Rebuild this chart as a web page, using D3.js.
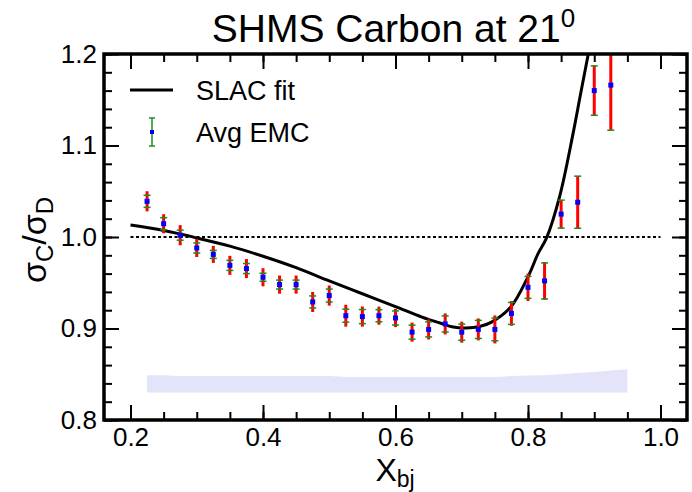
<!DOCTYPE html>
<html>
<head>
<meta charset="utf-8">
<script src="https://cdn.jsdelivr.net/npm/d3@7"></script>
<style>
	body { margin: 0; background: #fff; }
	svg text { font-family: "Liberation Sans", Arial, Helvetica, sans-serif; fill: #000; }
</style>
</head>
<body>
<svg id="chart" width="692" height="492"></svg>
<script>
// data points (x_bj, ratio), total error (red) and stat error (green, with caps)
var xbj = [0.225, 0.25, 0.275, 0.3, 0.325, 0.35, 0.375, 0.4, 0.425, 0.45, 0.475, 0.5, 0.525, 0.55, 0.575,
	0.6, 0.625, 0.65, 0.675, 0.7, 0.725, 0.75, 0.775, 0.8, 0.825, 0.85, 0.875, 0.9, 0.925];
var ratio = [1.039, 1.0145, 1.002, 0.988, 0.981, 0.969, 0.9655, 0.956, 0.948, 0.948, 0.929, 0.936, 0.914, 0.913, 0.914,
	0.9115, 0.896, 0.899, 0.905, 0.896, 0.899, 0.899, 0.9165, 0.945, 0.952, 1.025, 1.038, 1.160, 1.166];
var errTot = [0.011, 0.0104, 0.011, 0.0099, 0.0093, 0.0104, 0.0104, 0.0099, 0.0099, 0.0099, 0.011, 0.011, 0.012, 0.011, 0.0099,
	0.0099, 0.0104, 0.011, 0.0115, 0.0115, 0.012, 0.0153, 0.0135, 0.015, 0.0205, 0.0153, 0.0285, 0.0274, 0.0493];
var errStat = [0.0066, 0.0066, 0.0055, 0.0055, 0.0044, 0.0055, 0.0055, 0.0044, 0.0049, 0.0049, 0.0066, 0.0071, 0.0071, 0.0077, 0.0066,
	0.0077, 0.0077, 0.0082, 0.0088, 0.0088, 0.0099, 0.0124, 0.012, 0.012, 0.0197, 0.0153, 0.0285, 0.027, 0.0493];

// SLAC fit curve
var fitX = [0.2, 0.25, 0.3, 0.35, 0.4, 0.45, 0.5, 0.55, 0.6, 0.64, 0.667, 0.687, 0.707, 0.727, 0.745,
	0.774, 0.8, 0.815, 0.828, 0.848, 0.868, 0.879, 0.891];
var fitY = [1.013, 1.007, 0.999, 0.990, 0.979, 0.9665, 0.952, 0.938, 0.924, 0.9125, 0.906, 0.9016, 0.9005, 0.9022, 0.907,
	0.9235, 0.9565, 0.9815, 0.999, 1.045, 1.113, 1.155, 1.2];

// systematic band
var bandX = [0.225, 0.25, 0.275, 0.3, 0.325, 0.35, 0.375, 0.4, 0.425, 0.45, 0.475, 0.5, 0.525, 0.55, 0.575,
	0.6, 0.625, 0.65, 0.675, 0.7, 0.725, 0.75, 0.775, 0.8, 0.825, 0.85, 0.875, 0.9, 0.925, 0.95];
var bandTop = [0.849, 0.849, 0.848, 0.848, 0.848, 0.848, 0.848, 0.848, 0.848, 0.848, 0.848, 0.848, 0.847, 0.847, 0.847,
	0.847, 0.847, 0.847, 0.847, 0.847, 0.847, 0.847, 0.848, 0.8485, 0.849, 0.850, 0.8515, 0.8525, 0.854, 0.8556];
var bandBase = 0.830;

// axis ticks
var xMajor = [0.2, 0.4, 0.6, 0.8, 1.0];
var xMinor = d3.range(4, 21).map(function(i) { return i * 0.05; });
var yMajor = [0.8, 0.9, 1.0, 1.1, 1.2];
var yMinor = d3.range(40, 61).map(function(i) { return i * 0.02; });

var svg = d3.select("#chart");
var margin = { left: 104, right: 5, top: 54, bottom: 72 };
var width = 692 - margin.left - margin.right, height = 492 - margin.top - margin.bottom;

var x = d3.scaleLinear().domain([0.16, 1.04]).range([0, width]);
var y = d3.scaleLinear().domain([0.8, 1.2]).range([height, 0]);

var g = svg.append("g").attr("transform", "translate(" + margin.left + "," + margin.top + ")");

g.append("clipPath").attr("id", "clip")
	.append("rect").attr("width", width).attr("height", height);

var plot = g.append("g").attr("clip-path", "url(#clip)");

// band
var band = bandX.map(function(d, i) { return { x: d, top: bandTop[i] }; });
plot.append("path")
	.datum(band)
	.attr("fill", "#e3e3fa")
	.attr("d", d3.area()
		.x(function(d) { return x(d.x); })
		.y0(y(bandBase))
		.y1(function(d) { return y(d.top); }));

// dotted line at 1
plot.append("line")
	.attr("x1", x(0.2)).attr("x2", x(1.0))
	.attr("y1", y(1.0)).attr("y2", y(1.0))
	.attr("stroke", "#000").attr("stroke-width", 2)
	.attr("stroke-dasharray", "3,2.5");

// fit
var fit = fitX.map(function(d, i) { return [d, fitY[i]]; });
plot.append("path")
	.datum(fit)
	.attr("fill", "none")
	.attr("stroke", "#000")
	.attr("stroke-width", 3)
	.attr("d", d3.line()
		.x(function(d) { return x(d[0]); })
		.y(function(d) { return y(d[1]); })
		.curve(d3.curveCatmullRom.alpha(0.5)));

// points
var pts = xbj.map(function(d, i) {
	return { x: d, y: ratio[i], tot: errTot[i], stat: errStat[i] };
});

var pt = plot.append("g").selectAll("g").data(pts).enter().append("g");

pt.append("line")
	.attr("x1", function(d) { return x(d.x); })
	.attr("x2", function(d) { return x(d.x); })
	.attr("y1", function(d) { return y(d.y - d.tot); })
	.attr("y2", function(d) { return y(d.y + d.tot); })
	.attr("stroke", "#ff0000").attr("stroke-width", 3);

[-1, 1].forEach(function(s) {
	pt.append("line")
		.attr("x1", function(d) { return x(d.x) - 3.5; })
		.attr("x2", function(d) { return x(d.x) + 3.5; })
		.attr("y1", function(d) { return y(d.y + s * d.stat); })
		.attr("y2", function(d) { return y(d.y + s * d.stat); })
		.attr("stroke", "#1a8c1a").attr("stroke-width", 1.5);
});

pt.append("rect")
	.attr("x", function(d) { return x(d.x) - 2.5; })
	.attr("y", function(d) { return y(d.y) - 2.5; })
	.attr("width", 5).attr("height", 5)
	.attr("fill", "#0000ff");

// axes, ticks pointing inward
function styleAxis(sel) {
	sel.select(".domain").remove();
	sel.selectAll("line").attr("stroke", "#000").attr("stroke-width", 2);
	sel.selectAll("text").style("font-size", "26px").attr("fill", "#000");
}

g.append("g").attr("transform", "translate(0," + height + ")")
	.call(d3.axisBottom(x).tickValues(xMinor).tickSize(-8).tickFormat(""))
	.call(styleAxis);
g.append("g").attr("transform", "translate(0," + height + ")")
	.call(d3.axisBottom(x).tickValues(xMajor).tickSize(-15).tickPadding(8).tickFormat(d3.format(".1f")))
	.call(styleAxis);
g.append("g")
	.call(d3.axisTop(x).tickValues(xMinor).tickSize(-8).tickFormat(""))
	.call(styleAxis);
g.append("g")
	.call(d3.axisTop(x).tickValues(xMajor).tickSize(-15).tickFormat(""))
	.call(styleAxis);

g.append("g")
	.call(d3.axisLeft(y).tickValues(yMinor).tickSize(-8).tickFormat(""))
	.call(styleAxis);
g.append("g")
	.call(d3.axisLeft(y).tickValues(yMajor).tickSize(-15).tickPadding(7).tickFormat(d3.format(".1f")))
	.call(styleAxis);
g.append("g").attr("transform", "translate(" + width + ",0)")
	.call(d3.axisRight(y).tickValues(yMinor).tickSize(-8).tickFormat(""))
	.call(styleAxis);
g.append("g").attr("transform", "translate(" + width + ",0)")
	.call(d3.axisRight(y).tickValues(yMajor).tickSize(-15).tickFormat(""))
	.call(styleAxis);

// frame
g.append("rect")
	.attr("width", width).attr("height", height)
	.attr("fill", "none").attr("stroke", "#000").attr("stroke-width", 3.5);

// title
var title = svg.append("text")
	.attr("x", margin.left + width / 2 - 2).attr("y", 42)
	.attr("text-anchor", "middle")
	.style("font-size", "39px");
title.append("tspan").text("SHMS Carbon at 21");
title.append("tspan").attr("dy", -15).style("font-size", "26px").text("0");

// x axis title
var xt = svg.append("text")
	.attr("x", 395).attr("y", 481)
	.attr("text-anchor", "middle")
	.style("font-size", "32px");
xt.append("tspan").text("X");
xt.append("tspan").attr("dy", 6).style("font-size", "23px").text("bj");

// y axis title
var yt = svg.append("text")
	.attr("transform", "translate(46,240) rotate(-90)")
	.attr("text-anchor", "middle")
	.style("font-size", "34px");
yt.append("tspan").text("σ");
yt.append("tspan").attr("dy", 7).style("font-size", "24px").text("C");
yt.append("tspan").attr("dy", -7).text("/σ");
yt.append("tspan").attr("dy", 7).style("font-size", "24px").text("D");

// legend
var leg = svg.append("g");
leg.append("line")
	.attr("x1", 130).attr("x2", 173).attr("y1", 90).attr("y2", 90)
	.attr("stroke", "#000").attr("stroke-width", 3);
leg.append("text").attr("x", 196).attr("y", 100).style("font-size", "27px").text("SLAC fit");

leg.append("line")
	.attr("x1", 152).attr("x2", 152).attr("y1", 118).attr("y2", 146)
	.attr("stroke", "#1a8c1a").attr("stroke-width", 1.5);
[118, 146].forEach(function(cy) {
	leg.append("line")
		.attr("x1", 149).attr("x2", 155).attr("y1", cy).attr("y2", cy)
		.attr("stroke", "#1a8c1a").attr("stroke-width", 1.5);
});
leg.append("rect").attr("x", 150).attr("y", 130).attr("width", 4).attr("height", 4).attr("fill", "#0000ff");
leg.append("text").attr("x", 196).attr("y", 141.5).style("font-size", "27px").text("Avg EMC");
</script>
</body>
</html>
